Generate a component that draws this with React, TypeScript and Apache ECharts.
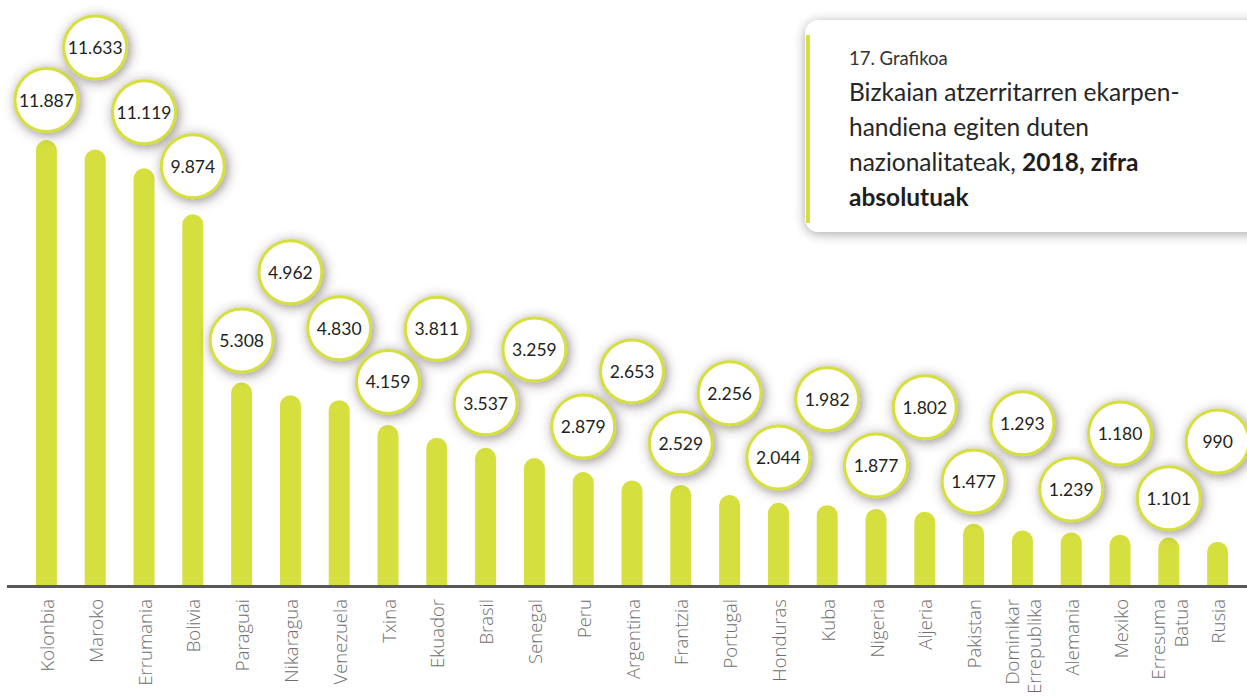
import React, { useEffect, useRef } from "react";
import * as echarts from "echarts";

const CATEGORIES = [
  "Kolonbia", "Maroko", "Errumania", "Bolivia", "Paraguai", "Nikaragua", "Venezuela",
  "Txina", "Ekuador", "Brasil", "Senegal", "Peru", "Argentina", "Frantzia", "Portugal",
  "Honduras", "Kuba", "Nigeria", "Aljeria", "Pakistan", "Dominikar\nErrepublika",
  "Alemania", "Mexiko", "Erresuma\nBatua", "Rusia",
];
const VALUES = [
  11887, 11633, 11119, 9874, 5308, 4962, 4830, 4159, 3811, 3537, 3259, 2879, 2653,
  2529, 2256, 2044, 1982, 1877, 1802, 1477, 1293, 1239, 1180, 1101, 990,
];
// layout: px gap between bar top and the value bubble (staggered placement)
const LABEL_GAP = [
  9, 71, 25, 17, 11, 92, 41, 12, 78, 13.5, 77.5, 14.5, 78, 10.7, 70.7, 14.3, 75, 12.5,
  73.6, 11.2, 76.2, 12, 70.2, 8.4, 69.2,
];
// bars start slightly below the zero level of the value scale (drawn to the axis rule)
const BASE_OFFSET = 185;

const TITLE_SMALL = "17. Grafikoa";
const TITLE_LINES = [
  "{n|Bizkaian atzerritarren ekarpen-}",
  "{n|handiena egiten duten}",
  "{n|nazionalitateak, }{b|2018, zifra}",
  "{b|absolutuak}",
];

const LIME = "#d5df3e";

function fmt(v: number): string {
  return String(v).replace(/\B(?=(\d{3})+(?!\d))/g, ".");
}

export default function App() {
  const ref = useRef<HTMLDivElement>(null);
  useEffect(() => {
    document.body.style.margin = "0";
    if (!ref.current) return;
    const chart = echarts.init(ref.current, null, { renderer: "svg" });
    const titleFont = "Lato";
    const option: any = {
      animation: false,
      backgroundColor: "#ffffff",
      grid: {
        left: 22,
        right: 5,
        top: 69,
        bottom: 113,
        containLabel: false,
        outerBoundsMode: "none",
      },
      xAxis: {
        type: "category",
        data: CATEGORIES,
        axisLine: { show: false },
        axisTick: { show: false },
        axisLabel: {
          rotate: 90,
          margin: 14,
          interval: 0,
          hideOverlap: false,
          fontFamily: "Open Sans",
          fontWeight: 300,
          fontSize: 18.5,
          lineHeight: 22.5,
          color: "#6e6e6e",
        },
      },
      yAxis: {
        type: "value",
        min: 0,
        max: 14000,
        show: false,
        splitLine: { show: false },
      },
      series: [
        {
          type: "bar",
          stack: "s",
          barWidth: 21,
          silent: true,
          data: VALUES.map(() => BASE_OFFSET),
          itemStyle: { color: LIME },
          label: { show: false },
        },
        {
          type: "bar",
          stack: "s",
          barWidth: 21,
          data: VALUES.map((v, i) => ({ value: v, label: { distance: LABEL_GAP[i] + 1 } })),
          itemStyle: { color: LIME, borderRadius: [10.5, 10.5, 0, 0] },
          label: {
            show: true,
            position: "top",
            formatter: (p: any) => fmt(p.value),
            fontFamily: "Lato",
            fontSize: 17.5,
            color: "#231f20",
            backgroundColor: "#ffffff",
            borderColor: LIME,
            borderWidth: 3,
            borderRadius: 30,
            width: 60,
            height: 60,
            lineHeight: 60,
            padding: 0,
            align: "center",
            shadowBlur: 12,
            shadowColor: "rgba(80,60,60,0.6)",
            shadowOffsetX: 2,
            shadowOffsetY: 2,
          },
        },
      ],
      graphic: [
        {
          type: "line",
          shape: { x1: 7, y1: 586.5, x2: 1247, y2: 586.5 },
          style: { stroke: "#585858", lineWidth: 3 },
          z: 10,
        },
        {
          type: "rect",
          shape: { x: 805, y: 20, width: 480, height: 212, r: 14 },
          style: {
            fill: "#ffffff",
            shadowBlur: 12,
            shadowColor: "rgba(0,0,0,0.35)",
            shadowOffsetX: 0,
            shadowOffsetY: 2,
          },
          z: 20,
        },
        {
          type: "rect",
          shape: { x: 806, y: 35, width: 4, height: 188 },
          style: { fill: LIME },
          z: 21,
        },
        {
          type: "text",
          x: 849,
          y: 58,
          style: {
            text: TITLE_SMALL,
            fontFamily: titleFont,
            fontSize: 18.5,
            fill: "#333333",
            verticalAlign: "middle",
          },
          z: 22,
        },
        ...TITLE_LINES.map((t, i) => ({
          type: "text",
          x: 849,
          y: 91 + i * 35,
          style: {
            text: t,
            verticalAlign: "middle",
            rich: {
              n: { fontFamily: titleFont, fontSize: 24.5, fill: "#262626", color: "#262626" },
              b: {
                fontFamily: titleFont,
                fontSize: 24.5,
                fontWeight: "bold",
                fill: "#1e1e1e",
                color: "#1e1e1e",
              },
            },
          },
          z: 22,
        })),
      ],
    };
    chart.setOption(option);
    return () => chart.dispose();
  }, []);
  return <div ref={ref} style={{ width: 1247, height: 698 }} />;
}
